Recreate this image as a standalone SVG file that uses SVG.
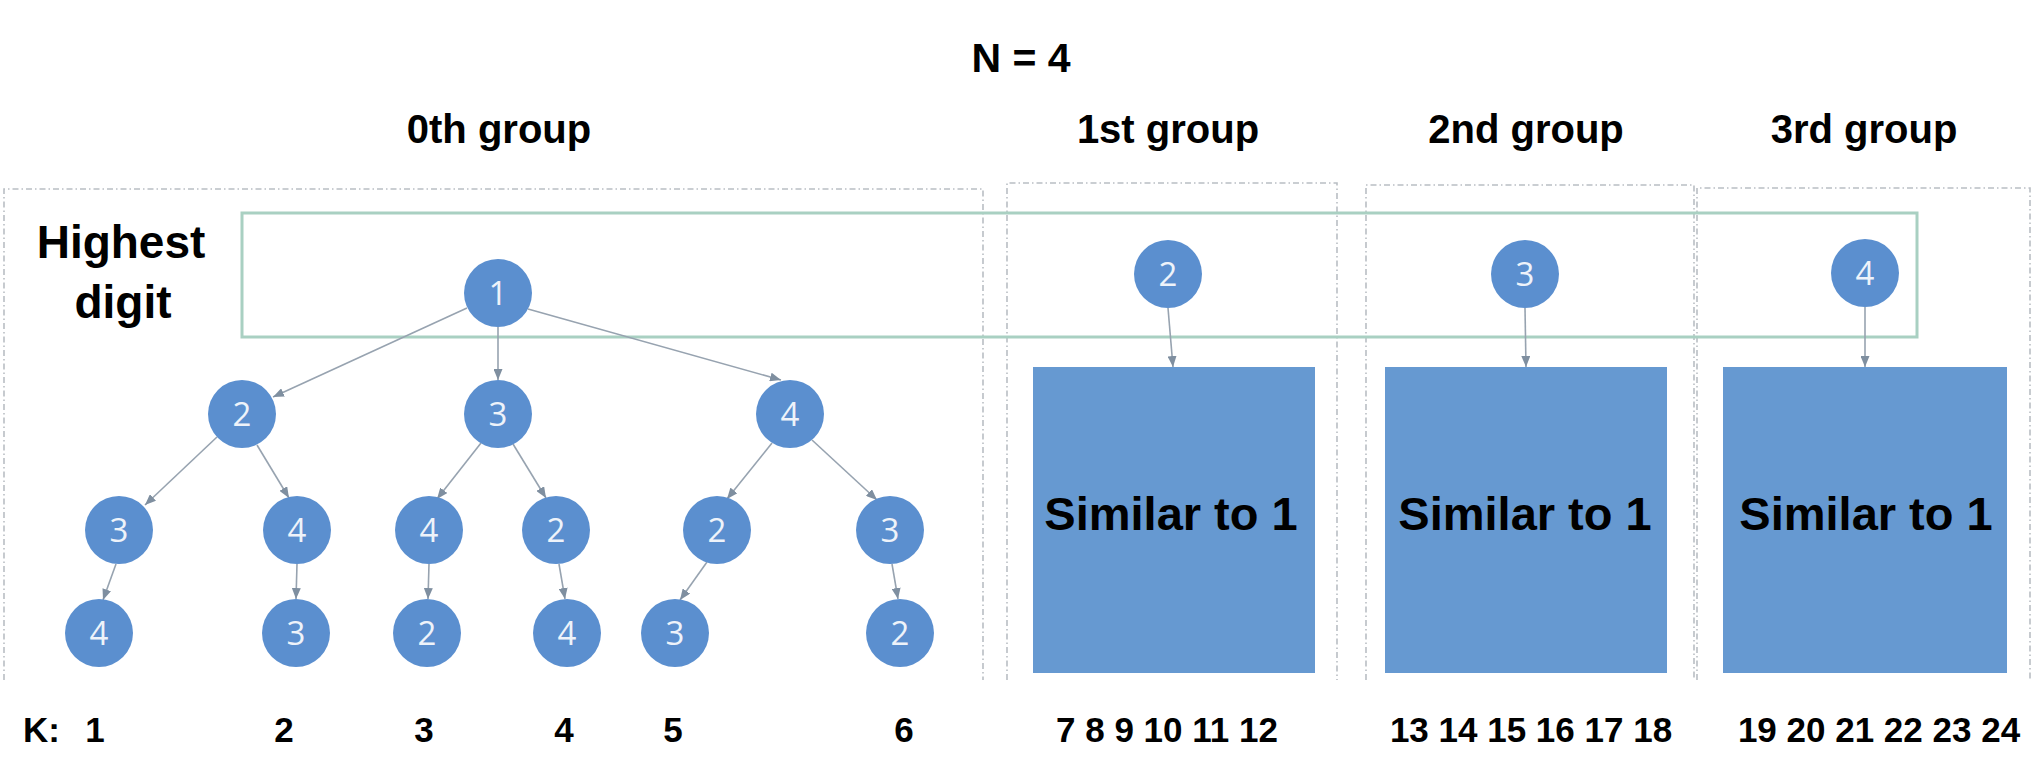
<svg xmlns="http://www.w3.org/2000/svg" width="2042" height="760" viewBox="0 0 2042 760">
<style>
.t{font-family:"Liberation Sans",Arial,Helvetica,sans-serif;font-weight:bold;fill:#000}
.grp{fill:none;stroke:#b9bec4;stroke-width:1.6;stroke-dasharray:6 3 1.5 3}
.hb{fill:none;stroke:#a9d0c2;stroke-width:3}
.n circle{fill:#5b8fcf}
.n text{font-family:"Open Sans","Noto Sans",sans-serif;font-size:33px;fill:#eef3fa;text-anchor:middle}
.sq{fill:#6699d1}
.e line{stroke:#97a3b0;stroke-width:1.6;marker-end:url(#ah)}
.k{font-size:35px}
</style>
<defs>
<marker id="ah" markerUnits="userSpaceOnUse" markerWidth="11" markerHeight="9" refX="11" refY="4.5" orient="auto">
<path d="M0,0 L11,4.5 L0,9 z" fill="#7f8fa0"/>
</marker>
</defs>
<rect width="2042" height="760" fill="#fff"/>

<text class="t" x="1021" y="72" font-size="41" text-anchor="middle">N = 4</text>
<text class="t" x="499" y="143" font-size="40" text-anchor="middle">0th group</text>
<text class="t" x="1168" y="143" font-size="40" text-anchor="middle">1st group</text>
<text class="t" x="1526" y="143" font-size="40" text-anchor="middle">2nd group</text>
<text class="t" x="1864" y="143" font-size="40" text-anchor="middle">3rd group</text>

<g id="group-frames">
<path class="grp" d="M4,680 V189 H983 V680"/>
<path class="grp" d="M1007,680 V183 H1337 V680"/>
<path class="grp" d="M1366,680 V185 H1694 V680"/>
<path class="grp" d="M1697,680 V188 H2030 V680"/>
</g>

<g id="highest-digit">
<rect class="hb" x="242" y="213" width="1675" height="124"/>
<text class="t" x="121" y="258" font-size="46" text-anchor="middle">Highest</text>
<text class="t" x="123" y="318" font-size="46" text-anchor="middle">digit</text>
</g>

<g id="connectors" class="e">
<line x1="467" y1="308" x2="273" y2="397"/>
<line x1="498" y1="327" x2="498" y2="380"/>
<line x1="528" y1="309" x2="781" y2="380"/>
<line x1="217" y1="437" x2="145" y2="505"/>
<line x1="257" y1="445" x2="289" y2="498"/>
<line x1="481" y1="443" x2="437" y2="499"/>
<line x1="513" y1="444" x2="546" y2="498"/>
<line x1="772" y1="443" x2="727" y2="499"/>
<line x1="812" y1="440" x2="877" y2="500"/>
<line x1="116" y1="564" x2="103" y2="600"/>
<line x1="297" y1="564" x2="296" y2="599"/>
<line x1="429" y1="564" x2="428" y2="599"/>
<line x1="559" y1="564" x2="565" y2="599"/>
<line x1="707" y1="562" x2="680" y2="600"/>
<line x1="892" y1="564" x2="898" y2="599"/>
<line x1="1168" y1="308" x2="1173" y2="367"/>
<line x1="1525" y1="308" x2="1526" y2="367"/>
<line x1="1865" y1="307" x2="1865" y2="367"/>
</g>

<g id="n-1" class="n"><circle cx="498" cy="293" r="34"/><text x="498" y="305">1</text></g>
<g id="n-1-2" class="n"><circle cx="242" cy="414" r="34"/><text x="242" y="426">2</text></g>
<g id="n-1-3" class="n"><circle cx="498" cy="414" r="34"/><text x="498" y="426">3</text></g>
<g id="n-1-4" class="n"><circle cx="790" cy="414" r="34"/><text x="790" y="426">4</text></g>
<g id="n-1-2-3" class="n"><circle cx="119" cy="530" r="34"/><text x="119" y="542">3</text></g>
<g id="n-1-2-4" class="n"><circle cx="297" cy="530" r="34"/><text x="297" y="542">4</text></g>
<g id="n-1-3-4" class="n"><circle cx="429" cy="530" r="34"/><text x="429" y="542">4</text></g>
<g id="n-1-3-2" class="n"><circle cx="556" cy="530" r="34"/><text x="556" y="542">2</text></g>
<g id="n-1-4-2" class="n"><circle cx="717" cy="530" r="34"/><text x="717" y="542">2</text></g>
<g id="n-1-4-3" class="n"><circle cx="890" cy="530" r="34"/><text x="890" y="542">3</text></g>
<g id="n-1-2-3-4" class="n"><circle cx="99" cy="633" r="34"/><text x="99" y="645">4</text></g>
<g id="n-1-2-4-3" class="n"><circle cx="296" cy="633" r="34"/><text x="296" y="645">3</text></g>
<g id="n-1-3-4-2" class="n"><circle cx="427" cy="633" r="34"/><text x="427" y="645">2</text></g>
<g id="n-1-3-2-4" class="n"><circle cx="567" cy="633" r="34"/><text x="567" y="645">4</text></g>
<g id="n-1-4-2-3" class="n"><circle cx="675" cy="633" r="34"/><text x="675" y="645">3</text></g>
<g id="n-1-4-3-2" class="n"><circle cx="900" cy="633" r="34"/><text x="900" y="645">2</text></g>

<g id="n-2" class="n"><circle cx="1168" cy="274" r="34"/><text x="1168" y="286">2</text></g>
<g id="n-3" class="n"><circle cx="1525" cy="274" r="34"/><text x="1525" y="286">3</text></g>
<g id="n-4" class="n"><circle cx="1865" cy="273" r="34"/><text x="1865" y="285">4</text></g>

<g id="box-2"><rect class="sq" x="1033" y="367" width="282" height="306"/><text class="t" x="1171" y="530" font-size="47" text-anchor="middle">Similar to 1</text></g>
<g id="box-3"><rect class="sq" x="1385" y="367" width="282" height="306"/><text class="t" x="1525" y="530" font-size="47" text-anchor="middle">Similar to 1</text></g>
<g id="box-4"><rect class="sq" x="1723" y="367" width="284" height="306"/><text class="t" x="1866" y="530" font-size="47" text-anchor="middle">Similar to 1</text></g>

<g id="k-row" class="t k">
<text x="23" y="742">K:</text>
<text x="95" y="742" text-anchor="middle">1</text>
<text x="284" y="742" text-anchor="middle">2</text>
<text x="424" y="742" text-anchor="middle">3</text>
<text x="564" y="742" text-anchor="middle">4</text>
<text x="673" y="742" text-anchor="middle">5</text>
<text x="904" y="742" text-anchor="middle">6</text>
<text x="1167" y="742" text-anchor="middle">7 8 9 10 11 12</text>
<text x="1531" y="742" text-anchor="middle">13 14 15 16 17 18</text>
<text x="1879" y="742" text-anchor="middle">19 20 21 22 23 24</text>
</g>
</svg>
